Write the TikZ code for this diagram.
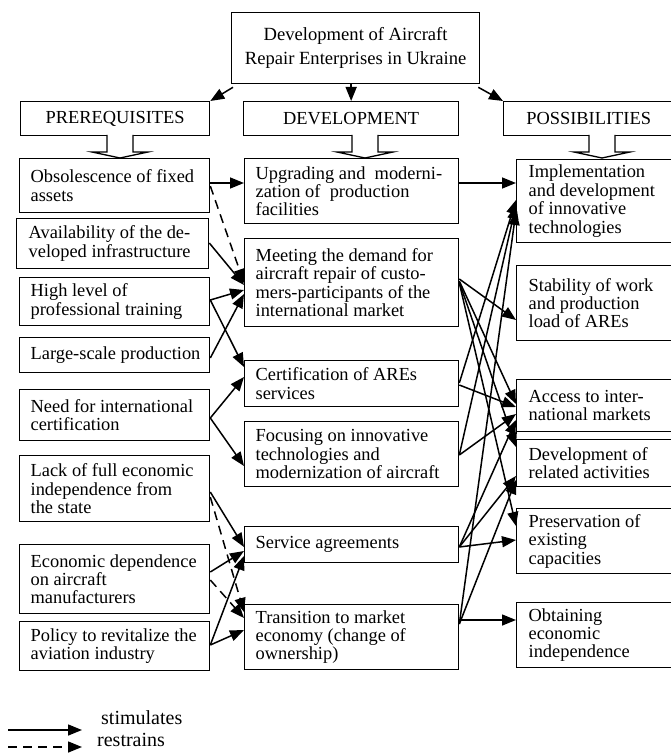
\documentclass[tikz,border=0pt]{standalone}
\usepackage{fontspec}
\setmainfont{Liberation Serif}
\usetikzlibrary{arrows.meta}
\newcommand\bxfont{\fontsize{18.4}{18.4}\selectfont}
\newcommand\topfont{\fontsize{18.6}{24}\selectfont}
\newcommand\lgfont{\fontsize{20}{20}\selectfont}
\newcommand\ltxt[1]{\hspace*{4pt}\parbox{172pt}{\raggedright #1}}
\newcommand\mtxt[1]{\hspace*{4pt}\parbox{196pt}{\raggedright #1}}
\newcommand\rtxt[1]{\hspace*{5pt}\parbox{138pt}{\raggedright #1}}
\begin{document}
\begin{tikzpicture}[x=1pt,y=-1pt,
  box/.style={draw, line width=1.3pt, anchor=north west, inner xsep=7pt, inner ysep=0pt, font=\bxfont},
  hdr/.style={draw, line width=1.3pt, anchor=north west, inner sep=0pt, align=center, font=\bxfont},
  arr/.style={line width=1.5pt, -{Triangle[length=14pt,width=11pt]}},
  darr/.style={arr, dash pattern=on 9pt off 6pt},
  ldarr/.style={arr, dash pattern=on 9pt off 6pt},
  hollow/.style={draw, line width=1.3pt, fill=white, line join=miter}]
\useasboundingbox (0,0) rectangle (670,754);

% top and headers
\node[hdr, minimum width=248pt, minimum height=71pt, font=\topfont] (top) at (231,12) {Development of Aircraft\\Repair Enterprises in Ukraine};
\node[hdr, minimum width=189pt, minimum height=34pt] (pre) at (20,101) {PREREQUISITES};
\node[hdr, minimum width=215pt, minimum height=34pt] (dev) at (243,101) {DEVELOPMENT};
\node[hdr, minimum width=170pt, minimum height=34pt] (pos) at (503,101) {POSSIBILITIES};

% left column
\node[box, minimum width=190pt, minimum height=54pt] (obs) at (19,158) {\ltxt{Obsolescence of fixed\\assets}};
\node[box, minimum width=192pt, minimum height=50pt] (ava) at (16,218) {\ltxt{Availability of the de-\\veloped infrastructure}};
\node[box, minimum width=190pt, minimum height=48pt] (high) at (19,277) {\ltxt{High level of\\professional training}};
\node[box, minimum width=190pt, minimum height=35pt] (large) at (19,337) {\ltxt{Large-scale production}};
\node[box, minimum width=190pt, minimum height=51pt] (need) at (19,389) {\ltxt{Need for international\\certification}};
\node[box, minimum width=190pt, minimum height=66pt] (lack) at (19,455) {\ltxt{Lack of full economic\\independence from\\the state}};
\node[box, minimum width=190pt, minimum height=69pt] (econ) at (19,544) {\ltxt{Economic dependence\\on aircraft\\manufacturers}};
\node[box, minimum width=190pt, minimum height=49pt] (policy) at (19,621) {\ltxt{Policy to revitalize the\\aviation industry}};

% middle column
\node[box, minimum width=214pt, minimum height=65pt] (upg) at (244,158) {\mtxt{Upgrading and\ \ moderni-\\zation of\ \ production\\facilities}};
\node[box, minimum width=214pt, minimum height=88pt] (meet) at (244,238) {\mtxt{Meeting the demand for\\aircraft repair of custo-\\mers-participants of the\\international market}};
\node[box, minimum width=214pt, minimum height=46pt] (cert) at (244,360) {\mtxt{Certification of AREs\\services}};
\node[box, minimum width=214pt, minimum height=65pt] (focus) at (244,421) {\mtxt{Focusing on innovative\\technologies and\\modernization of aircraft}};
\node[box, minimum width=214pt, minimum height=36pt] (serv) at (244,526) {\mtxt{Service agreements}};
\node[box, minimum width=214pt, minimum height=65pt] (trans) at (244,604) {\mtxt{Transition to market\\economy (change of\\ownership)}};

% right column
\node[box, minimum width=157pt, minimum height=83pt] (impl) at (516,159) {\rtxt{Implementation\\and development\\of innovative\\technologies}};
\node[box, minimum width=157pt, minimum height=75pt] (stab) at (516,265) {\rtxt{Stability of work\\and production\\load of AREs}};
\node[box, minimum width=157pt, minimum height=52pt] (access) at (516,379) {\rtxt{Access to inter-\\national markets}};
\node[box, minimum width=157pt, minimum height=47pt] (devrel) at (516,439) {\rtxt{Development of\\related activities}};
\node[box, minimum width=157pt, minimum height=65pt] (pres) at (516,508) {\rtxt{Preservation of\\existing\\capacities}};
\node[box, minimum width=157pt, minimum height=65pt] (obt) at (516,602) {\rtxt{Obtaining\\economic\\independence}};

% hollow arrows below headers
\draw[hollow] (107,135) -- (107,152) -- (92,152) -- (120,158) -- (148,152) -- (133,152) -- (133,135);
\draw[hollow] (352,135) -- (352,152) -- (337,152) -- (365,158) -- (393,152) -- (378,152) -- (378,135);
\draw[hollow] (589,135) -- (589,152) -- (574,152) -- (602,158) -- (630,152) -- (615,152) -- (615,135);

% arrows from top
\draw[arr] ([shift={(2pt,-3pt)}]top.south west) -- (pre.north east);
\draw[arr] (dev.north |- top.south) -- (dev.north);
\draw[arr] ([shift={(-2pt,-3pt)}]top.south east) -- (pos.north west);

% left to middle
\draw[arr] (obs.east |- 0,183) -- (upg.west |- 0,183);
\draw[darr] (obs.east |- 0,186) -- (meet.west |- 0,283);
\draw[arr] (ava.east |- 0,243) -- (meet.west |- 0,285);
\draw[arr] (high.east |- 0,300) -- (meet.west |- 0,290);
\draw[arr] (large.east |- 0,358) -- (meet.west |- 0,294);
\draw[arr] (high.east |- 0,300) -- (cert.west |- 0,367);
\draw[arr] (need.east |- 0,418) -- (cert.west |- 0,377);
\draw[arr] (need.east |- 0,418) -- (focus.west |- 0,466);
\draw[arr] (lack.east |- 0,492) -- (serv.west |- 0,547);
\draw[darr] (lack.east |- 0,497) -- (trans.west |- 0,612);
\draw[arr] (econ.east |- 0,572) -- (serv.west |- 0,551);
\draw[darr] (econ.east |- 0,580) -- (trans.west |- 0,618);
\draw[arr] (policy.east |- 0,645) -- (serv.west |- 0,556);
\draw[arr] (policy.east |- 0,645) -- (trans.west |- 0,630);

% middle to right
\draw[arr] (upg.east |- 0,183) -- (impl.west |- 0,183);
\draw[arr] (meet.east |- 0,279) -- (stab.west |- 0,320);
\draw[arr] (meet.east |- 0,281) -- (access.west |- 0,404);
\draw[arr] (meet.east |- 0,282) -- (devrel.west |- 0,447);
\draw[arr] (meet.east |- 0,283) -- (pres.west |- 0,526);
\draw[arr] (cert.east |- 0,383) -- (impl.west |- 0,200);
\draw[arr] (cert.east |- 0,385) -- (access.west |- 0,407);
\draw[arr] (focus.east |- 0,455) -- (impl.west |- 0,205);
\draw[arr] (focus.east |- 0,455) -- (access.west |- 0,414);
\draw[arr] (serv.east |- 0,547) -- (access.west |- 0,420);
\draw[arr] (serv.east |- 0,547) -- (devrel.west |- 0,476);
\draw[arr] (serv.east |- 0,547) -- (pres.west |- 0,540);
\draw[arr] (trans.east |- 0,624) -- (impl.west |- 0,211);
\draw[arr] (trans.east |- 0,624) -- (devrel.west |- 0,480);
\draw[arr] (trans.east |- 0,620) -- (obt.west |- 0,620);

% legend
\coordinate (la1) at (8,730);
\coordinate (lb1) at (82,730);
\coordinate (la2) at (8,747);
\coordinate (lb2) at (82,747);
\draw[arr] (la1) -- (lb1);
\draw[ldarr] (la2) -- (lb2);
\node[anchor=west, inner sep=0pt, font=\lgfont] (stim) at (101,718) {stimulates};
\node[anchor=west, inner sep=0pt, font=\lgfont] (restr) at (97,740) {restrains};
\end{tikzpicture}
\end{document}
